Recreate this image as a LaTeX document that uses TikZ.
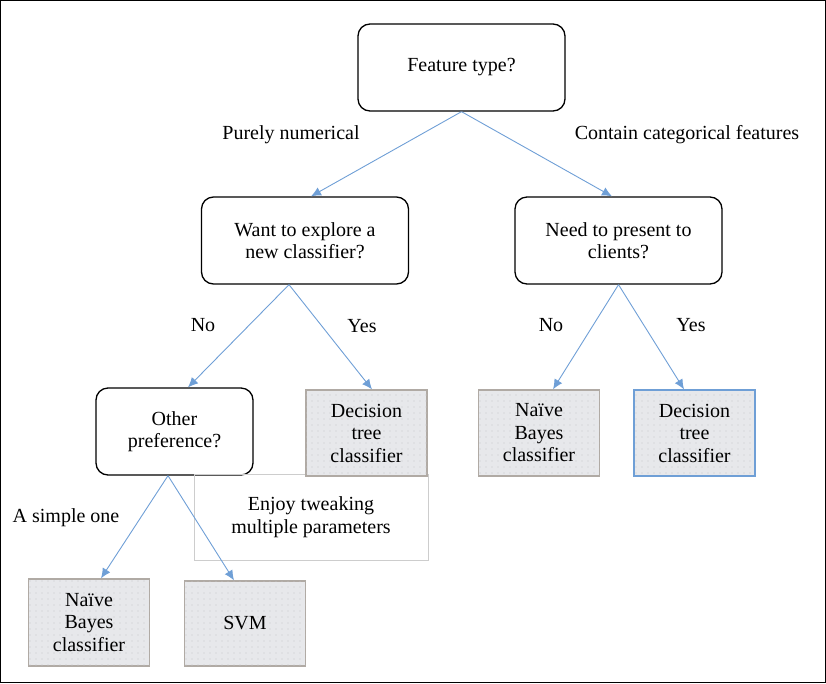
\documentclass[tikz,border=0pt]{standalone}
\usepackage{fontspec}
\setmainfont{Liberation Serif}
\newfontfamily\timesfont{Liberation Serif}
\usetikzlibrary{arrows.meta,patterns.meta}
\definecolor{arrowblue}{RGB}{111,159,214}
\definecolor{leafgray}{RGB}{231,232,235}
\definecolor{leafedge}{RGB}{176,170,164}
\definecolor{notegray}{RGB}{205,205,205}
\definecolor{dotgray}{RGB}{200,200,204}
\tikzdeclarepattern{
  name=leafdots,
  type=uncolored,
  bottom left={(-.6pt,-.6pt)},
  top right={(.6pt,.6pt)},
  tile size={(6pt,6pt)},
  code={\fill (0pt,0pt) circle (0.6pt);}
}
\begin{document}
\begin{tikzpicture}[x=1pt,y=-1pt,
  font=\timesfont\fontsize{20}{22.5}\selectfont,
  question/.style={draw,line width=1.3pt,rounded corners=12pt,align=center,
    minimum width=207pt,minimum height=87pt,inner sep=0pt},
  leaf/.style={draw=leafedge,line width=1.3pt,fill=leafgray,align=center,
    minimum width=121pt,minimum height=86pt,inner sep=0pt,
    postaction={pattern=leafdots,pattern color=dotgray}},
  note/.style={draw=notegray,line width=0.8pt,align=center,
    minimum width=234pt,minimum height=86pt,inner sep=0pt},
  arr/.style={color=arrowblue,line width=0.9pt,-{Latex[length=10pt,width=9pt]}}]
\useasboundingbox (0,0) rectangle (826,683);
\draw[line width=1.4pt] (0.7,0.7) rectangle (825.3,682.3);
% questions
\node[question] (ft) at (461.5,67.5) {Feature type?};
\node[question] (explore) at (305,240.5) {Want to explore a\\new classifier?};
\node[question] (clients) at (618.5,240.5) {Need to present to\\clients?};
\node[question,minimum width=157pt] (other) at (174.5,431.5) {Other\\preference?};
% answers
\node[note] (enjoy) at (311,517) {Enjoy tweaking\\multiple parameters};
\node[leaf] (dtl) at (366.5,433) {Decision\\tree\\classifier};
\node[leaf] (nbr) at (539,433) {Naïve\\Bayes\\classifier};
\node[leaf,draw=arrowblue] (dtr) at (694.5,433) {Decision\\tree\\classifier};
\node[leaf,minimum height=87pt] (nbl) at (89,622.5) {Naïve\\Bayes\\classifier};
\node[leaf,minimum height=85pt] (svm) at (245,623.5) {SVM};
% branch labels
\node (numerical) at (291,135) {Purely numerical};
\node (categorical) at (687,135) {Contain categorical features};
\node (nol) at (203,325) {No};
\node (yesl) at (362,326) {Yes};
\node (nor) at (551,325) {No};
\node (yesr) at (691,325) {Yes};
\node (simple) at (66,518) {A simple one};
\path
    (ft.south) edge[arr] ([xshift=6pt]explore.north)
    (ft.south) edge[arr] ([xshift=-6.5pt]clients.north)
    ([xshift=-16pt]explore.south) edge[arr] ([xshift=13.5pt]other.north)
    ([xshift=-16pt]explore.south) edge[arr] ([xshift=5.5pt]dtl.north)
    (clients.south) edge[arr] ([xshift=14pt]nbr.north)
    (clients.south) edge[arr] ([xshift=-10.5pt]dtr.north)
    ([xshift=-6.5pt]other.south) edge[arr] ([xshift=12pt]nbl.north)
    ([xshift=-6.5pt]other.south) edge[arr] ([xshift=-11pt]svm.north);
\end{tikzpicture}
\end{document}
